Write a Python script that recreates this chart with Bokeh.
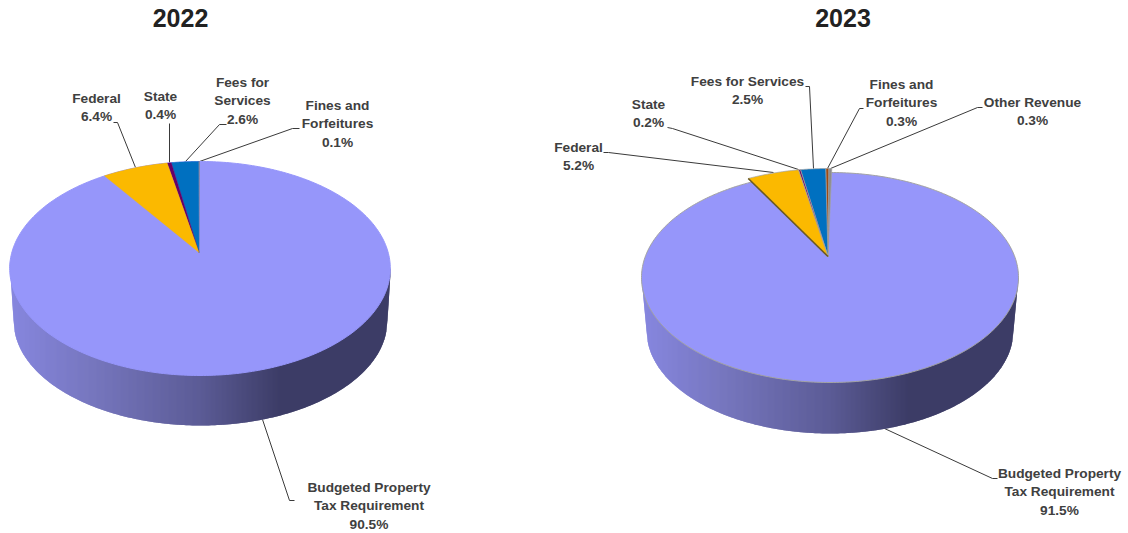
import numpy as np
from bokeh.plotting import figure
from bokeh.embed import file_html
from bokeh.resources import INLINE
from bokeh.core.properties import value
from bokeh.models import Range1d

# ---- data ----
years = ["2022", "2023"]
categories_2022 = ["Budgeted Property\nTax Requirement", "Federal", "State", "Fees for\nServices", "Fines and\nForfeitures"]
values_2022 = [90.5, 6.4, 0.4, 2.6, 0.1]
categories_2023 = ["Budgeted Property\nTax Requirement", "Federal", "State", "Fees for Services", "Fines and\nForfeitures", "Other Revenue"]
values_2023 = [91.5, 5.2, 0.2, 2.5, 0.3, 0.3]
colors_2022 = ["#9696fa", "#fbb900", "#660066", "#0070c0", "#7f7f7f"]
colors_2023 = ["#9696fa", "#fbb900", "#660066", "#0070c0", "#a04a10", "#8c8c8c"]

# ---- layout (page pixels) ----
W, H = 1128, 533
pie_2022 = dict(cx=199.5, cy=268, a=190.3, b=107, bx=200, by=320, ba=187, bb=105,
                ax=198.5, ay=252, rx=199, ry=268, t0=0.0, k=0.877, edge=None)
pie_2023 = dict(cx=829.5, cy=277, a=188.5, b=105, bx=829.5, by=330, ba=183.5, bb=103,
                ax=827.5, ay=256, rx=828, ry=273, t0=-1.0, k=0.856, edge="#a3a3a3")
title_pos = [(180, 17.5), (842.5, 17.5)]
label_pos_2022 = [(368.5, 486.5), (96, 97.5), (160, 95.5), (242, 81.5), (337, 104.5)]
label_pos_2023 = [(1059, 472.5), (578, 146.5), (648, 103.5), (747, 80.5), (901, 83.5), (1032, 101.5)]
line_gap = 18.8
leaders_2022 = [
    [(262, 419), (289, 500), (294, 500)],
    [(113, 122), (117, 122), (135, 167)],
    [(169, 123), (169, 162)],
    [(226, 124), (219, 124), (185, 161)],
    [(299, 128), (292, 128), (199, 161)],
]
leaders_2023 = [
    [(884, 428), (992, 478), (997, 478)],
    [(603, 152), (608, 152), (773, 172)],
    [(667, 127), (672, 128), (798, 169)],
    [(805, 86), (809, 86), (813, 168)],
    [(863, 108), (859, 108), (827, 168)],
    [(982, 107), (977, 107), (830, 168)],
]
grad_pos = [0.0, 0.2, 0.5, 0.72, 1.0]
grad_r = [134, 120, 92, 60, 62]
grad_g = [134, 120, 92, 60, 62]
grad_b = [222, 192, 150, 102, 104]

p = figure(width=W, height=H, x_range=Range1d(0, W), y_range=Range1d(H, 0),
           output_backend="svg", toolbar_location=None, min_border=0,
           background_fill_color="white", border_fill_color="white")
p.axis.visible = False
p.grid.visible = False
p.outline_line_color = None
p.styles = {"position": "absolute", "left": "0px", "top": "0px"}


def wall_bottom(g, x):
    dx = np.abs(x - g["bx"])
    inner = g["by"] + g["bb"] * np.sqrt(np.clip(1 - (dx / g["ba"]) ** 2, 0, 1))
    outer = g["by"] - (dx - g["ba"]) / (g["a"] - g["ba"]) * (g["by"] - g["cy"])
    return np.where(dx <= g["ba"], inner, outer)


def wall(g):
    # one-pixel strips, each overlapped by the next, give a seamless gradient
    left = int(np.floor(g["cx"] - g["a"]))
    right = int(np.ceil(g["cx"] + g["a"]))
    edges = np.arange(left, right + 1)
    xs, ys, cols = [], [], []
    for x in edges[:-1]:
        x_a = max(x, g["cx"] - g["a"])
        x_b = min(x + 2, g["cx"] + g["a"])
        f = np.clip((x + 0.5 - (g["bx"] - g["ba"])) / (2 * g["ba"]), 0, 1)
        r = int(np.interp(f, grad_pos, grad_r))
        gg = int(np.interp(f, grad_pos, grad_g))
        b = int(np.interp(f, grad_pos, grad_b))
        xs.append([x_a, x_b, x_b, x_a])
        ys.append([g["cy"], g["cy"], float(wall_bottom(g, x_b)), float(wall_bottom(g, x_a))])
        cols.append(f"#{r:02x}{gg:02x}{b:02x}")
    p.patches(xs, ys, fill_color=cols, line_color=None)


def draw_pie(g, vals, cols):
    wall(g)
    th = np.linspace(0, 2 * np.pi, 361)
    ex = g["cx"] + g["a"] * np.cos(th)
    ey = g["cy"] + g["b"] * np.sin(th)
    p.patch(ex, ey, fill_color=cols[0],
            line_color=g["edge"] if g["edge"] else cols[0], line_width=1)
    # smaller slices run anti-clockwise from the top, last category first
    cum = 0.0
    xs, ys, fc = [], [], []
    for v, c in zip(vals[:0:-1], cols[:0:-1]):
        t_a = np.radians(g["t0"] + cum * 3.6 * g["k"])
        cum += v
        t_b = np.radians(g["t0"] + cum * 3.6 * g["k"])
        t = np.linspace(t_a, t_b, 24)
        xs.append([g["ax"]] + list(g["rx"] - g["a"] * np.sin(t)))
        ys.append([g["ay"]] + list(g["ry"] - g["b"] * np.cos(t)))
        fc.append(c)
    if g["edge"]:
        p.patches(xs, ys, fill_color=fc, line_color=g["edge"], line_width=0.7)
        # dark lower edge of the largest small slice
        p.line([xs[-1][-1], g["ax"]], [ys[-1][-1], g["ay"]], line_color="#6b5a22", line_width=1.6)
    else:
        p.patches(xs, ys, fill_color=fc, line_color=fc, line_width=0.3)


def draw_labels(names, vals, pos, leaders):
    for path in leaders:
        p.line([q[0] for q in path], [q[1] for q in path], line_color="#3a3a3a", line_width=1)
    tx, ty, tt = [], [], []
    for n, v, (x, y) in zip(names, vals, pos):
        for i, s in enumerate(n.split("\n") + [f"{v:.1f}%"]):
            tx.append(x)
            ty.append(y + i * line_gap)
            tt.append(s)
    p.text(tx, ty, text=tt, text_font=value("Liberation Sans"), text_font_style="bold",
           text_font_size=value("13.7px"), text_color="#404040",
           text_align="center", text_baseline="middle")


draw_labels(categories_2022, values_2022, label_pos_2022, leaders_2022)
draw_labels(categories_2023, values_2023, label_pos_2023, leaders_2023)
draw_pie(pie_2022, values_2022, colors_2022)
draw_pie(pie_2023, values_2023, colors_2023)

p.text([q[0] for q in title_pos], [q[1] for q in title_pos], text=years,
       text_font=value("Liberation Sans"), text_font_style="bold",
       text_font_size=value("25px"), text_color="#222222",
       text_align="center", text_baseline="middle")

open("out.html", "w").write(file_html(p, INLINE))
